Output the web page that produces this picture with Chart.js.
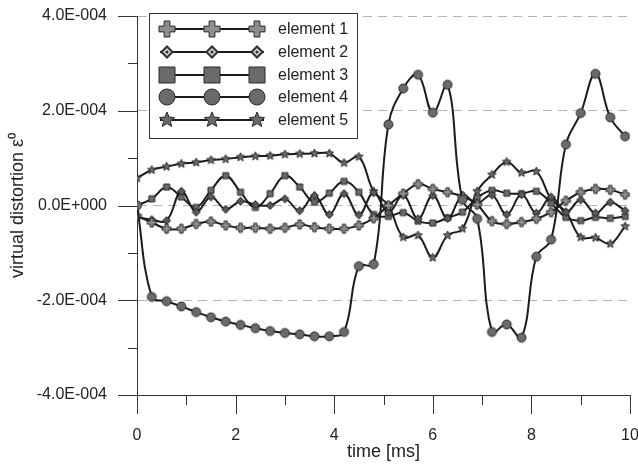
<!DOCTYPE html>
<html>
<head>
<meta charset="utf-8">
<script src="https://cdn.jsdelivr.net/npm/chart.js@4.4.0/dist/chart.umd.min.js"></script>
<style>
  html, body { margin: 0; padding: 0; background: #fff; }
</style>
</head>
<body>
<canvas id="chart" width="638" height="465"></canvas>
<script>
// time axis (ms), one marker every 0.3 ms
const times = [0, 0.3, 0.6, 0.9, 1.2, 1.5, 1.8, 2.1, 2.4, 2.7, 3.0, 3.3, 3.6, 3.9, 4.2, 4.5, 4.8,
  5.1, 5.4, 5.7, 6.0, 6.3, 6.6, 6.9, 7.2, 7.5, 7.8, 8.1, 8.4, 8.7, 9.0, 9.3, 9.6, 9.9];

// virtual distortion, in units of 1E-004
const element1 = [-0.22, -0.36, -0.49, -0.49, -0.39, -0.34, -0.42, -0.47, -0.47, -0.49, -0.47, -0.40,
  -0.46, -0.49, -0.49, -0.42, -0.27, 0.00, 0.25, 0.45, 0.35, 0.28, 0.19, 0.02, -0.33, -0.39, -0.35,
  -0.28, -0.14, 0.10, 0.28, 0.35, 0.33, 0.23];
const element2 = [-0.25, -0.30, -0.32, 0.30, -0.14, 0.18, -0.08, 0.09, 0.02, 0.00, 0.14, -0.11,
  0.21, -0.19, 0.25, -0.20, 0.27, -0.15, 0.22, -0.28, 0.21, -0.27, 0.21, 0.05, 0.22, -0.19, 0.23,
  -0.16, 0.18, -0.14, 0.12, -0.16, 0.07, -0.11];
const element3 = [0.00, 0.14, 0.39, 0.18, -0.04, 0.32, 0.63, 0.28, -0.04, 0.25, 0.63, 0.39,
  0.07, 0.26, 0.51, 0.28, -0.19, -0.23, -0.15, -0.33, -0.37, -0.26, -0.14, 0.16, 0.32, 0.26, 0.25,
  0.30, 0.05, -0.25, -0.32, -0.25, -0.27, -0.23];
const element4 = [0.00, -1.93, -2.02, -2.13, -2.25, -2.36, -2.45, -2.52, -2.59, -2.65, -2.69, -2.72,
  -2.76, -2.76, -2.67, -1.28, -1.24, 1.71, 2.47, 2.76, 1.96, 2.55, 0.12, -0.28, -2.67, -2.51, -2.79,
  -1.08, -0.72, 1.29, 1.95, 2.78, 1.86, 1.46];
const element5 = [0.58, 0.75, 0.82, 0.88, 0.91, 0.96, 0.98, 1.02, 1.04, 1.05, 1.08, 1.09,
  1.10, 1.10, 0.90, 1.03, 0.30, 0.00, -0.67, -0.63, -1.10, -0.63, -0.49, 0.30, 0.65, 0.92, 0.69,
  0.72, 0.14, -0.14, -0.67, -0.68, -0.81, -0.44];

const seriesNames = ['element 1', 'element 2', 'element 3', 'element 4', 'element 5'];
const seriesShapes = ['plus', 'diamond', 'square', 'circle', 'star'];

const yTickValues = [-4, -2, 0, 2, 4];
const yTickLabels = ['-4.0E-004', '-2.0E-004', '0.0E+000', '2.0E-004', '4.0E-004'];
const yMinorTicks = [-3, -1, 1, 3];
const xTickValues = [0, 2, 4, 6, 8, 10];
const xTickLabels = ['0', '2', '4', '6', '8', '10'];
const xMinorTicks = [1, 3, 5, 7, 9];

const FONT = "'Liberation Sans', Arial, sans-serif";
const LINE = '#1c1c1c';

// small canvases used as point styles
function makeMarker(shape, size, inner) {
  const c = document.createElement('canvas');
  c.width = c.height = size + 4;
  const g = c.getContext('2d');
  const m = c.width / 2, r = size / 2;
  g.lineWidth = 1;
  g.strokeStyle = '#2a2a2a';
  g.fillStyle = '#6a6a6a';
  g.beginPath();
  if (shape === 'plus') {
    const a = r * 0.36;
    const pts = [[-a, -r], [a, -r], [a, -a], [r, -a], [r, a], [a, a], [a, r], [-a, r], [-a, a], [-r, a], [-r, -a], [-a, -a]];
    pts.forEach((p, i) => i ? g.lineTo(m + p[0], m + p[1]) : g.moveTo(m + p[0], m + p[1]));
    g.closePath();
    g.fillStyle = '#8e8e8e';
    g.fill(); g.stroke();
  } else if (shape === 'diamond') {
    g.moveTo(m, m - r); g.lineTo(m + r, m); g.lineTo(m, m + r); g.lineTo(m - r, m); g.closePath();
    g.fillStyle = '#333'; g.fill();
    const q = r * 0.58;
    g.beginPath();
    g.moveTo(m, m - q); g.lineTo(m + q, m); g.lineTo(m, m + q); g.lineTo(m - q, m); g.closePath();
    g.fillStyle = inner; g.fill();
    g.beginPath();
    g.arc(m, m, r * 0.22, 0, Math.PI * 2);
    g.fillStyle = '#333'; g.fill();
  } else if (shape === 'square') {
    g.rect(m - r, m - r, size, size);
    g.fill(); g.stroke();
  } else if (shape === 'circle') {
    g.arc(m, m, r, 0, Math.PI * 2);
    g.fill(); g.stroke();
  } else if (shape === 'star') {
    for (let i = 0; i < 10; i++) {
      const rad = i % 2 ? r * 0.45 : r;
      const ang = -Math.PI / 2 + i * Math.PI / 5;
      const px = m + rad * Math.cos(ang), py = m + rad * Math.sin(ang);
      i ? g.lineTo(px, py) : g.moveTo(px, py);
    }
    g.closePath();
    g.fill(); g.stroke();
  }
  return c;
}

const plotSizes = { plus: 9, diamond: 9, square: 6, circle: 9, star: 9 };
const legendSizes = { plus: 16, diamond: 14, square: 16, circle: 16, star: 16 };
const plotMarkers = seriesShapes.map(s => makeMarker(s, plotSizes[s], '#7a7a7a'));
const legendMarkers = seriesShapes.map(s => makeMarker(s, legendSizes[s], '#d4d4d4'));

const seriesValues = [element1, element2, element3, element4, element5];
const datasets = seriesValues.map((vals, i) => ({
  label: seriesNames[i],
  data: times.map((t, k) => ({ x: t, y: vals[k] })),
  borderColor: LINE,
  borderWidth: 2,
  tension: 0.4,
  pointStyle: plotMarkers[i],
  pointRadius: 5,
  order: i === 3 ? 0 : i + 1
}));

// axis ticks and the boxed legend
const decorations = {
  id: 'decorations',
  afterDraw(chart) {
    const ctx = chart.ctx, xs = chart.scales.x, ys = chart.scales.y, area = chart.chartArea;
    ctx.save();
    ctx.strokeStyle = '#333';
    ctx.lineWidth = 1;
    ctx.beginPath();
    yTickValues.forEach(v => { const p = Math.round(ys.getPixelForValue(v)) + 0.5; ctx.moveTo(area.left - 19, p); ctx.lineTo(area.left, p); });
    yMinorTicks.forEach(v => { const p = Math.round(ys.getPixelForValue(v)) + 0.5; ctx.moveTo(area.left - 9, p); ctx.lineTo(area.left, p); });
    xTickValues.forEach(v => { const p = Math.round(xs.getPixelForValue(v)) + 0.5; ctx.moveTo(p, area.bottom); ctx.lineTo(p, area.bottom + 19); });
    xMinorTicks.forEach(v => { const p = Math.round(xs.getPixelForValue(v)) + 0.5; ctx.moveTo(p, area.bottom); ctx.lineTo(p, area.bottom + 10); });
    ctx.stroke();

    // legend box
    const bx = 149.5, by = 13.5, bw = 208, bh = 125;
    ctx.fillStyle = '#fff';
    ctx.fillRect(bx, by, bw, bh);
    ctx.strokeRect(bx, by, bw, bh);
    ctx.font = '16px ' + FONT;
    ctx.textBaseline = 'middle';
    ctx.fillStyle = '#222';
    seriesNames.forEach((name, i) => {
      const ry = Math.round(29 + i * 22.8);
      ctx.strokeStyle = LINE;
      ctx.lineWidth = 2;
      ctx.beginPath();
      ctx.moveTo(160, ry); ctx.lineTo(264, ry);
      ctx.stroke();
      const mk = legendMarkers[i];
      [167, 212, 257].forEach(cx => ctx.drawImage(mk, cx - mk.width / 2, ry - mk.height / 2));
      ctx.fillText(name, 278, ry + 1);
    });
    ctx.restore();
  }
};

new Chart(document.getElementById('chart'), {
  type: 'line',
  data: { datasets: datasets },
  options: {
    responsive: false,
    animation: false,
    layout: { padding: { left: 0, right: 8, top: 16, bottom: 0 } },
    plugins: { legend: { display: false }, tooltip: { enabled: false } },
    scales: {
      x: {
        type: 'linear',
        min: 0,
        max: 10,
        afterBuildTicks: s => { s.ticks = xTickValues.map(v => ({ value: v })); },
        afterFit: s => { s.height = 70; s.paddingLeft = 0; s.paddingRight = 0; },
        ticks: {
          callback: (v, i) => xTickLabels[i],
          maxRotation: 0,
          autoSkip: false,
          padding: 31,
          color: '#222',
          font: { family: FONT, size: 16 }
        },
        grid: { display: false, drawTicks: false },
        border: { display: true, color: '#333', width: 1 },
        title: {
          display: true,
          text: 'time [ms]',
          color: '#222',
          font: { family: FONT, size: 18 },
          padding: { top: 0, bottom: 2 }
        }
      },
      y: {
        min: -4,
        max: 4,
        afterBuildTicks: s => { s.ticks = yTickValues.map(v => ({ value: v })); },
        afterFit: s => { s.width = 137; s.paddingTop = 0; s.paddingBottom = 0; },
        ticks: {
          callback: (v, i) => yTickLabels[i],
          autoSkip: false,
          padding: 30,
          color: '#222',
          font: { family: FONT, size: 16 }
        },
        grid: {
          drawTicks: false,
          color: ctx => (ctx.tick && ctx.tick.value === -4) ? 'rgba(0,0,0,0)' : '#b4b4b4',
          lineWidth: 1
        },
        border: { display: true, color: '#333', width: 1, dash: [9, 6] },
        title: {
          display: true,
          text: 'virtual distortion ε⁰',
          color: '#222',
          font: { family: FONT, size: 18 },
          padding: { top: 7, bottom: 0 }
        }
      }
    }
  },
  plugins: [decorations]
});
</script>
</body>
</html>
